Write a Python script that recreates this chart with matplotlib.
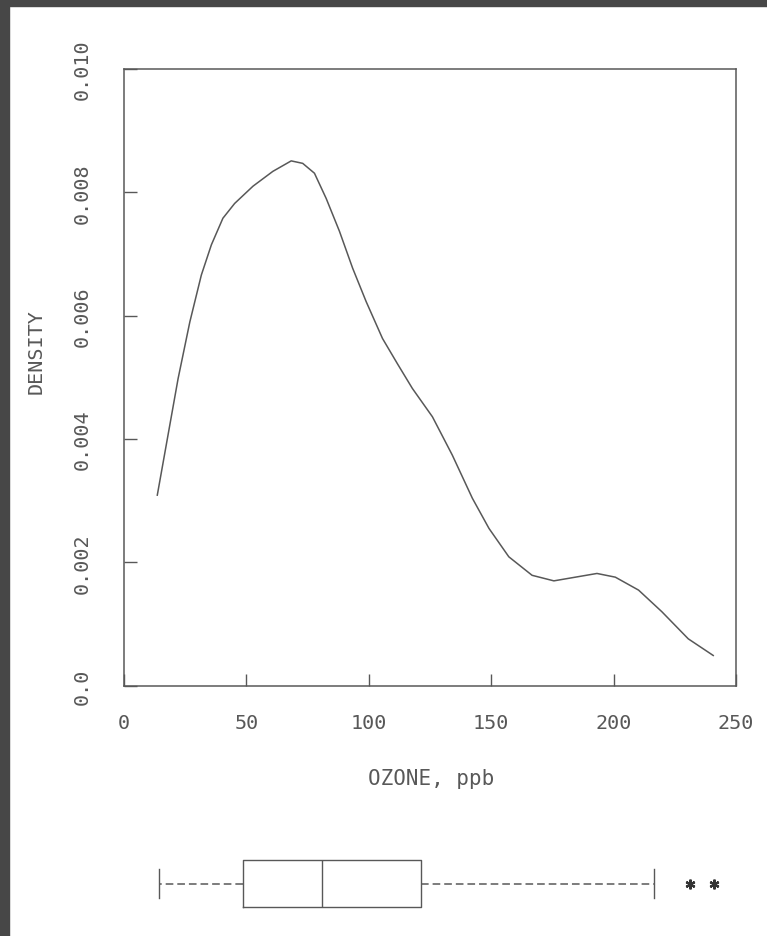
import matplotlib.pyplot as plt
from matplotlib.patches import Rectangle

# density curve
ozone = [13.6, 22.1, 26.9, 31.6, 35.7, 40.4, 45.2, 52.7, 60.8, 68.3, 73.0,
         77.8, 82.6, 88.0, 93.4, 98.9, 105.6, 111.7, 117.8, 126.0, 134.1,
         142.3, 149.1, 157.2, 166.7, 175.6, 184.4, 193.2, 200.7, 210.2,
         219.7, 230.5, 240.7]
density = [0.00309, 0.00498, 0.00590, 0.00666, 0.00715, 0.00758, 0.00782,
           0.00810, 0.00834, 0.00851, 0.00847, 0.00831, 0.00790, 0.00737,
           0.00677, 0.00623, 0.00563, 0.00522, 0.00482, 0.00436, 0.00374,
           0.00304, 0.00255, 0.00209, 0.00179, 0.00170, 0.00176, 0.00182,
           0.00176, 0.00155, 0.00120, 0.00076, 0.00049]

x_ticks = [0, 50, 100, 150, 200, 250]
y_ticks = [0.0, 0.002, 0.004, 0.006, 0.008, 0.010]
y_tick_labels = ["0.0", "0.002", "0.004", "0.006", "0.008", "0.010"]

# boxplot summary
box_low = 14.4
box_q1 = 48.6
box_median = 80.8
box_q3 = 121.5
box_high = 216.4
box_outliers = [231.2, 241.0]

INK = "#585858"
FONT = "DejaVu Sans Mono"

fig = plt.figure(figsize=(7.67, 9.37), dpi=100)
fig.patch.set_facecolor("white")

# dark scanner border on left and top
fig.add_artist(Rectangle((0, 0), 9 / 767, 1, transform=fig.transFigure,
                         color="#474747", zorder=10))
fig.add_artist(Rectangle((0, 1 - 7 / 937), 1, 7 / 937,
                         transform=fig.transFigure, color="#474747", zorder=10))

ax = fig.add_axes([124 / 767, 1 - 686.7 / 937, 612 / 767, 616.7 / 937])
ax.plot(ozone, density, color=INK, linewidth=1.1)
ax.set_xlim(0, 250)
ax.set_ylim(0, 0.010)
ax.set_xticks(x_ticks, [str(v) for v in x_ticks])
ax.set_yticks(y_ticks, y_tick_labels)
ax.tick_params(direction="in", length=9, width=1.0, color=INK,
               labelcolor=INK, labelsize=14.5)
ax.tick_params(axis="x", pad=20)
ax.tick_params(axis="y", pad=23, labelrotation=90)
for label in ax.get_xticklabels() + ax.get_yticklabels():
    label.set_family(FONT)
for label in ax.get_yticklabels():
    label.set_va("center")
for spine in ax.spines.values():
    spine.set_color(INK)
    spine.set_linewidth(1.1)

fig.text(36 / 767, 1 - 352 / 937, "DENSITY", rotation=90, ha="center",
         va="center", color=INK, fontsize=14.5, family=FONT)
fig.text(431 / 767, 1 - 779 / 937, "OZONE, ppb", ha="center", va="center",
         color=INK, fontsize=15, family=FONT)

# boxplot strip under the density
bx = fig.add_axes([124 / 767, 1 - 920 / 937, 612 / 767, 70 / 937])
stats = [{
    "whislo": box_low, "q1": box_q1, "med": box_median, "q3": box_q3,
    "whishi": box_high, "fliers": box_outliers,
}]
bx.bxp(
    stats, positions=[0], widths=1.0, capwidths=0.62,
    orientation="horizontal",
    boxprops={"color": INK, "linewidth": 1.0},
    medianprops={"color": INK, "linewidth": 1.0},
    whiskerprops={"color": INK, "linewidth": 1.1, "linestyle": (0, (5, 2.6))},
    capprops={"color": INK, "linewidth": 1.0},
    flierprops={"marker": (6, 2, 0), "markersize": 7, "markeredgewidth": 1.6,
                "markerfacecolor": "#333333", "markeredgecolor": "#333333",
                "linestyle": "none"},
)
bx.set_xlim(0, 250)
bx.set_ylim(-0.755, 0.734)
bx.axis("off")

fig.savefig("out.png", dpi=100, facecolor="white")
